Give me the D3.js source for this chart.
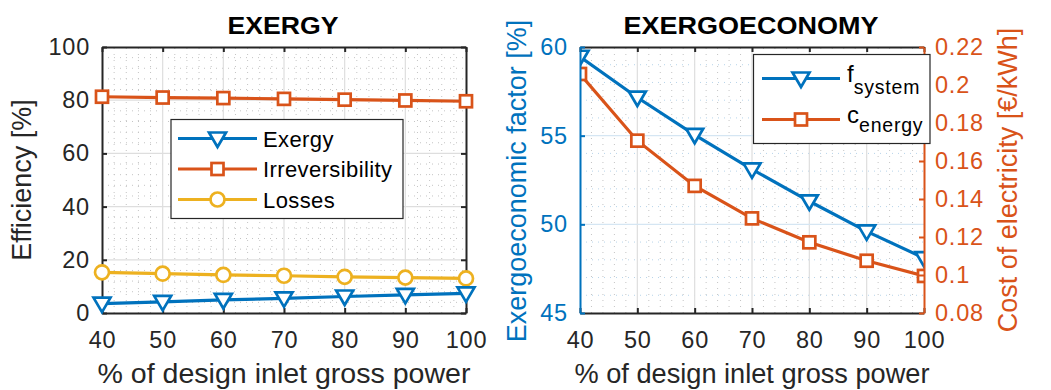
<!DOCTYPE html>
<html>
<head>
<meta charset="utf-8">
<script src="https://cdn.jsdelivr.net/npm/d3@7"></script>
<style>
  body { margin: 0; background: #fff; }
  svg { display: block; font-family: "Liberation Sans", Arial, sans-serif; }
</style>
</head>
<body>
<svg id="chart" width="1051" height="390"></svg>
<script>
// ── data ────────────────────────────────────────────────────
const loadPct         = [40, 50, 60, 70, 80, 90, 100];
const exergyEff       = [3.5, 4.2, 4.9, 5.5, 6.2, 6.8, 7.4];
const irreversibility = [81.3, 81.0, 80.8, 80.5, 80.2, 79.9, 79.6];
const losses          = [15.3, 14.8, 14.3, 14.0, 13.6, 13.3, 13.0];
const fSystem         = [59.45, 57.15, 55.05, 53.1, 51.3, 49.6, 48.1];
const cEnergy         = [0.2058, 0.1707, 0.1469, 0.1298, 0.1172, 0.1075, 0.0995];

const xTicks    = [40, 50, 60, 70, 80, 90, 100];
const effTicks  = [0, 20, 40, 60, 80, 100];
const fTicks    = [45, 50, 55, 60];
const costTicks = [0.08, 0.10, 0.12, 0.14, 0.16, 0.18, 0.20, 0.22];

const BLUE = "#0072BD", ORANGE = "#D95319", YELLOW = "#EDB120", INK = "#262626";
const FONT = "'Liberation Sans', Arial, sans-serif";
const TICK_SIZE = 23.5;

const svg = d3.select("#chart");

// triangle-down marker
const triPath = "M-8.5,-6L8.5,-6L0,8.5Z";

function grid(g, x, y, xMinor, yMinor, hMajorColor, hMinorColor) {
    const [y0, y1] = y.range();
    const [x0, x1] = x.range();
    g.append("g").selectAll("line").data(xMinor).join("line")
        .attr("x1", d => x(d)).attr("x2", d => x(d)).attr("y1", y0).attr("y2", y1)
        .attr("stroke", "#c4c4c4").attr("stroke-dasharray", "1,5");
    g.append("g").selectAll("line").data(yMinor).join("line")
        .attr("x1", x0).attr("x2", x1).attr("y1", d => y(d)).attr("y2", d => y(d))
        .attr("stroke", hMinorColor).attr("stroke-dasharray", "1,5");
    g.append("g").selectAll("line").data(xTicks.slice(1, -1)).join("line")
        .attr("x1", d => x(d)).attr("x2", d => x(d)).attr("y1", y0).attr("y2", y1)
        .attr("stroke", "#dedede").attr("stroke-width", 1.2);
    const yt = y.ticksList.slice(1, -1);
    g.append("g").selectAll("line").data(yt).join("line")
        .attr("x1", x0).attr("x2", x1).attr("y1", d => y(d)).attr("y2", d => y(d))
        .attr("stroke", hMajorColor).attr("stroke-width", 1.2);
}

function styleAxis(sel, color) {
    sel.attr("color", color).attr("font-family", FONT).attr("font-size", TICK_SIZE);
    sel.selectAll("path,line").attr("stroke-width", 2);
    sel.selectAll("text").attr("letter-spacing", "0.8px");
}

function frame(g, x, y, yRight, leftColor, rightColor, leftFmt, rightFmt) {
    const [y0, y1] = y.range();
    const [x0, x1] = x.range();
    const bottom = g.append("g").attr("transform", `translate(0,${y0})`)
        .call(d3.axisBottom(x).tickValues(xTicks).tickSizeInner(-5).tickSizeOuter(0).tickPadding(18));
    styleAxis(bottom, INK);
    const top = g.append("g").attr("transform", `translate(0,${y1})`)
        .call(d3.axisTop(x).tickValues(xTicks).tickSizeInner(-5).tickSizeOuter(0).tickFormat(""));
    styleAxis(top, INK);
    const left = g.append("g").attr("transform", `translate(${x0},0)`)
        .call(d3.axisLeft(y).tickValues(y.ticksList).tickSizeInner(-5).tickSizeOuter(0)
            .tickPadding(12).tickFormat(leftFmt));
    styleAxis(left, leftColor);
    const right = g.append("g").attr("transform", `translate(${x1},0)`)
        .call(d3.axisRight(yRight).tickValues(yRight.ticksList).tickSizeInner(-5).tickSizeOuter(0)
            .tickPadding(11).tickFormat(rightFmt));
    styleAxis(right, rightColor);
}

function series(g, x, y, values, color, marker) {
    const pts = loadPct.map((p, i) => [x(p), y(values[i])]);
    g.append("path").datum(pts)
        .attr("fill", "none").attr("stroke", color).attr("stroke-width", 3.2)
        .attr("d", d3.line());
    addMarkers(g, pts, color, marker);
}

function addMarkers(g, pts, color, marker) {
    const m = g.append("g").selectAll("g").data(pts).join("g")
        .attr("transform", d => `translate(${d[0]},${d[1]})`);
    if (marker === "tri") {
        m.append("path").attr("d", triPath);
    } else if (marker === "square") {
        m.append("rect").attr("x", -6).attr("y", -6).attr("width", 12).attr("height", 12);
    } else {
        m.append("circle").attr("r", 7);
    }
    m.selectAll("*").attr("fill", "#fff").attr("stroke", color).attr("stroke-width", 2.7);
}

function axisLabelX(x, text, len) {
    const [x0, x1] = x.range();
    svg.append("text").attr("x", (x0 + x1) / 2).attr("y", 383)
        .attr("text-anchor", "middle").attr("font-size", 27).attr("fill", INK)
        .attr("textLength", len).attr("lengthAdjust", "spacingAndGlyphs")
        .text(text);
}

function axisLabelY(cx, cy, text, color) {
    svg.append("text").attr("transform", `translate(${cx},${cy}) rotate(-90)`)
        .attr("text-anchor", "middle").attr("font-size", 27).attr("fill", color)
        .text(text);
}

function title(cx, text, len) {
    svg.append("text").attr("x", cx).attr("y", 34)
        .attr("text-anchor", "middle").attr("font-size", 23.5).attr("font-weight", "bold")
        .attr("fill", "#000").attr("textLength", len).attr("lengthAdjust", "spacingAndGlyphs")
        .text(text);
}

// ── left panel: EXERGY ──────────────────────────────────────
{
    const x = d3.scaleLinear().domain([40, 100]).range([102, 466]);
    const y = d3.scaleLinear().domain([0, 100]).range([313, 47]);
    y.ticksList = effTicks;
    const g = svg.append("g");
    grid(g, x, y, d3.range(42, 100, 2).filter(v => v % 10), d3.range(4, 100, 4).filter(v => v % 20),
        "#dedede", "#c4c4c4");
    frame(g, x, y, y, INK, INK, d3.format("d"), () => "");
    series(g, x, y, irreversibility, ORANGE, "square");
    series(g, x, y, losses, YELLOW, "circle");
    series(g, x, y, exergyEff, BLUE, "tri");

    // legend
    const lg = svg.append("g");
    lg.append("rect").attr("x", 171).attr("y", 119.5).attr("width", 232).attr("height", 99)
        .attr("fill", "#fff").attr("stroke", INK).attr("stroke-width", 1.2);
    const items = [
        { label: "Exergy", color: BLUE, marker: "tri" },
        { label: "Irreversibility", color: ORANGE, marker: "square" },
        { label: "Losses", color: YELLOW, marker: "circle" }
    ];
    items.forEach((it, i) => {
        const yy = 138.5 + i * 30.5;
        lg.append("line").attr("x1", 178).attr("x2", 257).attr("y1", yy).attr("y2", yy)
            .attr("stroke", it.color).attr("stroke-width", 3.2);
        addMarkers(lg, [[217.5, yy]], it.color, it.marker);
        lg.append("text").attr("x", 263).attr("y", yy + 8).attr("font-size", 22)
            .attr("letter-spacing", "0.4px").attr("fill", "#000").text(it.label);
    });

    title(283, "EXERGY", 111);
    axisLabelX(x, "% of design inlet gross power", 373);
    axisLabelY(31, 180, "Efficiency [%]", INK);
}

// ── right panel: EXERGOECONOMY ──────────────────────────────
{
    const x = d3.scaleLinear().domain([40, 100]).range([580, 924]);
    const y = d3.scaleLinear().domain([45, 60]).range([313, 47]);
    const yC = d3.scaleLinear().domain([0.08, 0.22]).range([313, 47]);
    y.ticksList = fTicks;
    yC.ticksList = costTicks;
    const g = svg.append("g");
    grid(g, x, y, d3.range(42, 100, 2).filter(v => v % 10), d3.range(46, 60, 1).filter(v => v % 5),
        "#d5e6f3", "#b7d4ea");

    svg.append("clipPath").attr("id", "clipR")
        .append("rect").attr("x", 580).attr("y", 47).attr("width", 344).attr("height", 266);
    const plot = g.append("g").attr("clip-path", "url(#clipR)");
    series(plot, x, yC, cEnergy, ORANGE, "square");
    series(plot, x, y, fSystem, BLUE, "tri");

    frame(g, x, y, yC, BLUE, ORANGE, d3.format("d"), v => String(+v.toFixed(2)));

    // legend
    const lg = svg.append("g");
    lg.append("rect").attr("x", 753.5).attr("y", 54.5).attr("width", 176.5).attr("height", 89)
        .attr("fill", "#fff").attr("stroke", INK).attr("stroke-width", 1.2);
    const items = [
        { main: "f", sub: "system", dy: 12, color: BLUE, marker: "tri", y: 78.5 },
        { main: "c", sub: "energy", dy: 8.5, color: ORANGE, marker: "square", y: 119.5 }
    ];
    items.forEach(it => {
        lg.append("line").attr("x1", 762).attr("x2", 840).attr("y1", it.y).attr("y2", it.y)
            .attr("stroke", it.color).attr("stroke-width", 3.2);
        addMarkers(lg, [[801, it.y]], it.color, it.marker);
        const t = lg.append("text").attr("x", 847).attr("y", it.y + 3.5)
            .attr("font-size", 24).attr("fill", "#000").text(it.main);
        t.append("tspan").attr("dy", it.dy).attr("font-size", 19.5)
            .attr("letter-spacing", "0.8px").text(it.sub);
    });

    title(751, "EXERGOECONOMY", 255);
    axisLabelX(x, "% of design inlet gross power", 355);
    axisLabelY(526, 181, "Exergoeconomic factor [%]", BLUE);
    axisLabelY(1017, 180, "Cost of electricity [€/kWh]", ORANGE);
}
</script>
</body>
</html>
